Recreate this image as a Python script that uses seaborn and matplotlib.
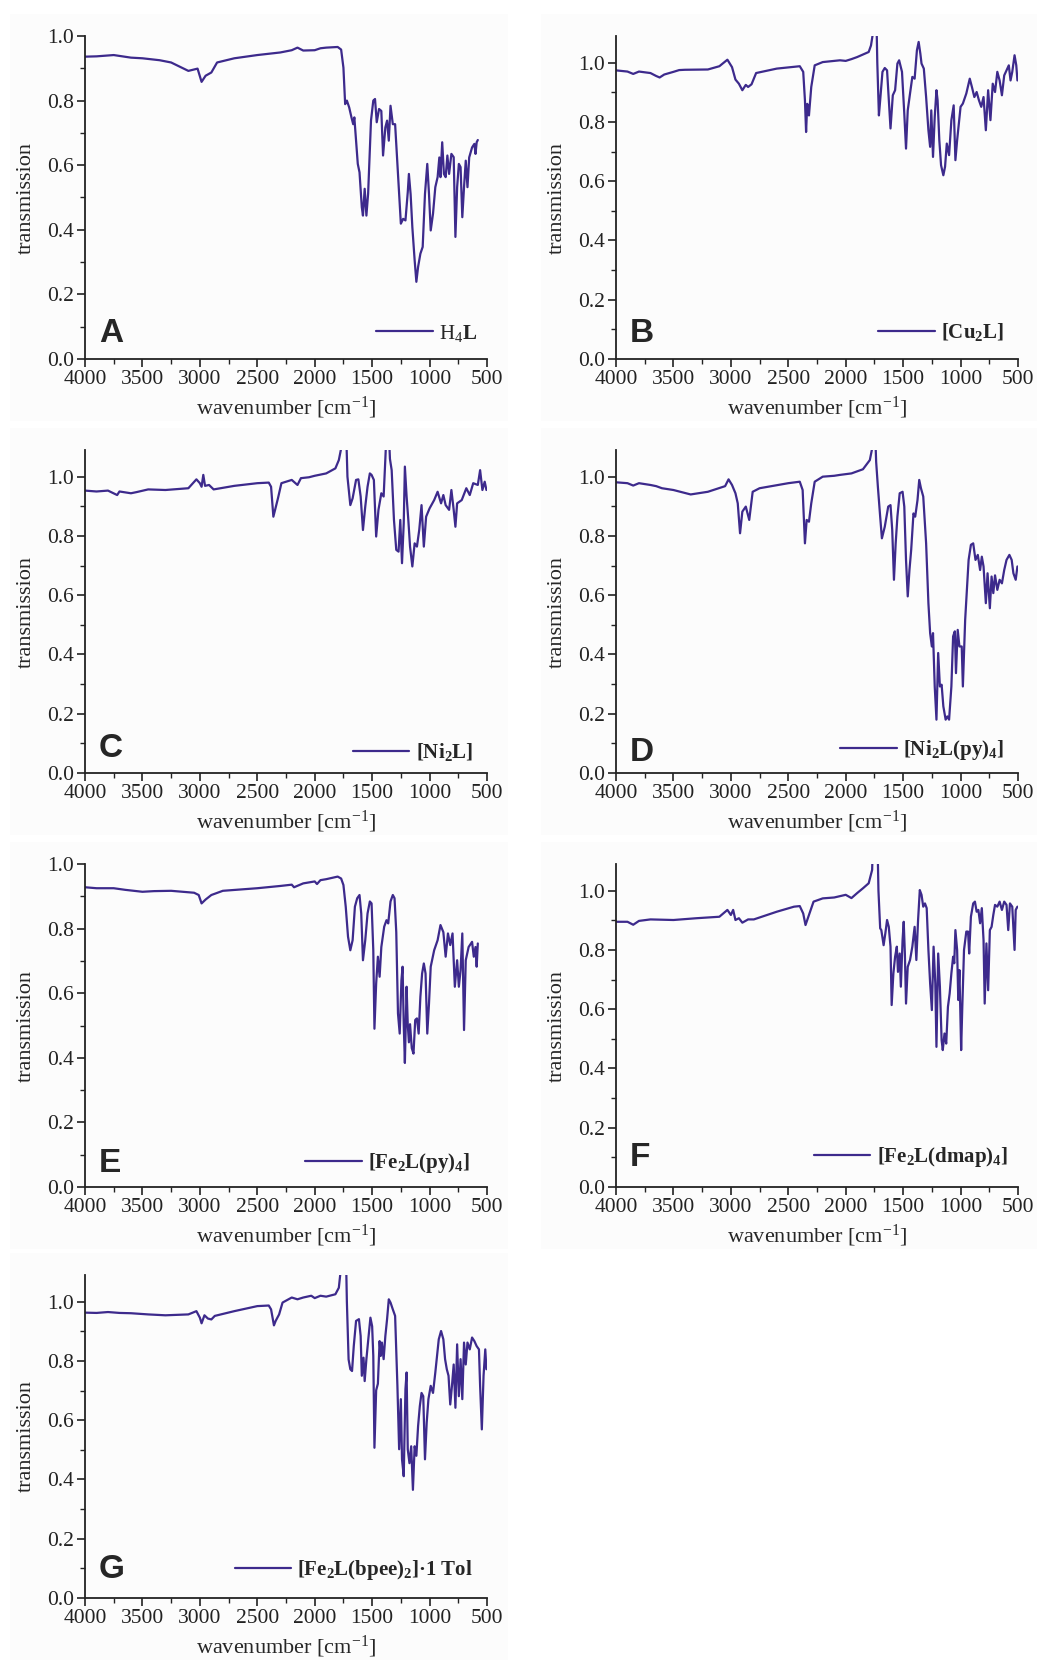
import numpy as np
import pandas as pd
import seaborn as sns
import matplotlib.pyplot as plt
from matplotlib.patches import Rectangle
from matplotlib.ticker import MultipleLocator

# (wavenumber, transmission) pairs
spec_A = [(4000, 0.936), (3900, 0.937), (3750, 0.941), (3600, 0.933), (3500, 0.931), (3350, 0.925), (3250, 0.918),
          (3100, 0.892), (3020, 0.899), (2985, 0.858), (2950, 0.877), (2900, 0.887), (2850, 0.918), (2700, 0.931),
          (2500, 0.941), (2300, 0.949), (2200, 0.956), (2150, 0.964), (2100, 0.955), (2000, 0.956), (1950, 0.962),
          (1900, 0.964), (1800, 0.966), (1770, 0.958), (1750, 0.902), (1735, 0.789), (1720, 0.800), (1700, 0.779),
          (1680, 0.748), (1665, 0.727), (1655, 0.748), (1640, 0.676), (1625, 0.604), (1610, 0.578), (1590, 0.470),
          (1580, 0.444), (1565, 0.527), (1550, 0.444), (1535, 0.512), (1510, 0.738), (1490, 0.800), (1475, 0.805),
          (1460, 0.733), (1440, 0.774), (1420, 0.768), (1405, 0.630), (1385, 0.717), (1370, 0.738), (1355, 0.676),
          (1340, 0.784), (1320, 0.727), (1300, 0.727), (1270, 0.542), (1250, 0.419), (1230, 0.434), (1210, 0.429),
          (1190, 0.516), (1180, 0.573), (1165, 0.510), (1150, 0.408), (1130, 0.306), (1115, 0.239), (1100, 0.285),
          (1080, 0.326), (1060, 0.347), (1040, 0.511), (1020, 0.604), (1005, 0.511), (990, 0.398), (970, 0.450),
          (950, 0.532), (930, 0.563), (915, 0.624), (905, 0.563), (890, 0.671), (875, 0.573), (860, 0.563),
          (845, 0.630), (830, 0.573), (810, 0.635), (790, 0.625), (775, 0.378), (760, 0.532), (745, 0.604),
          (730, 0.594), (715, 0.439), (700, 0.532), (685, 0.614), (670, 0.532), (655, 0.624), (630, 0.655),
          (610, 0.666), (600, 0.635), (590, 0.671), (580, 0.678)]

spec_B = [(4000, 0.974), (3900, 0.970), (3850, 0.962), (3800, 0.970), (3700, 0.965), (3650, 0.955), (3620, 0.950),
          (3580, 0.960), (3500, 0.969), (3450, 0.975), (3400, 0.976), (3200, 0.977), (3100, 0.988), (3030, 1.010),
          (2990, 0.985), (2960, 0.943), (2930, 0.929), (2900, 0.907), (2870, 0.925), (2850, 0.918), (2820, 0.927),
          (2780, 0.965), (2600, 0.980), (2400, 0.988), (2370, 0.969), (2355, 0.873), (2345, 0.766), (2335, 0.861),
          (2320, 0.822), (2300, 0.918), (2270, 0.991), (2200, 1.002), (2100, 1.006), (2050, 1.008), (2000, 1.006),
          (1950, 1.012), (1900, 1.019), (1800, 1.036), (1780, 1.058), (1765, 1.095), (1750, 1.2), (1735, 1.2),
          (1725, 1.0), (1711, 0.822), (1700, 0.873), (1680, 0.969), (1660, 0.982), (1640, 0.974), (1610, 0.778),
          (1590, 0.890), (1570, 0.907), (1550, 0.997), (1535, 1.008), (1510, 0.969), (1490, 0.828), (1475, 0.710),
          (1460, 0.839), (1440, 0.896), (1420, 0.952), (1400, 0.946), (1380, 1.042), (1365, 1.070), (1350, 1.030),
          (1340, 0.997), (1320, 0.980), (1300, 0.884), (1280, 0.772), (1265, 0.716), (1255, 0.839), (1240, 0.682),
          (1225, 0.817), (1210, 0.907), (1200, 0.873), (1185, 0.738), (1170, 0.654), (1150, 0.620), (1135, 0.649),
          (1120, 0.727), (1100, 0.688), (1080, 0.806), (1060, 0.856), (1045, 0.671), (1030, 0.738), (1000, 0.851),
          (980, 0.862), (950, 0.896), (920, 0.946), (900, 0.916), (880, 0.884), (860, 0.901), (840, 0.873),
          (820, 0.851), (800, 0.884), (780, 0.772), (760, 0.907), (740, 0.806), (720, 0.929), (700, 0.901),
          (680, 0.969), (660, 0.940), (640, 0.890), (620, 0.957), (600, 0.974), (580, 0.991), (565, 0.940),
          (550, 0.969), (530, 1.025), (515, 0.991), (505, 0.940)]

spec_C = [(4000, 0.953), (3900, 0.950), (3800, 0.953), (3720, 0.938), (3700, 0.950), (3600, 0.944), (3550, 0.948),
          (3450, 0.957), (3300, 0.955), (3100, 0.961), (3030, 0.991), (3000, 0.978), (2985, 0.966), (2970, 1.006),
          (2955, 0.969), (2920, 0.972), (2880, 0.957), (2700, 0.969), (2500, 0.978), (2400, 0.980), (2380, 0.966),
          (2360, 0.865), (2345, 0.888), (2320, 0.927), (2290, 0.978), (2200, 0.989), (2150, 0.972), (2120, 0.995),
          (2050, 0.998), (2000, 1.003), (1900, 1.011), (1820, 1.028), (1790, 1.056), (1770, 1.095), (1755, 1.2),
          (1730, 1.2), (1715, 1.0), (1690, 0.904), (1670, 0.927), (1640, 0.989), (1620, 0.991), (1600, 0.933),
          (1580, 0.820), (1560, 0.899), (1540, 0.966), (1520, 1.011), (1505, 1.006), (1485, 0.989), (1465, 0.798),
          (1445, 0.888), (1420, 0.944), (1400, 0.933), (1385, 1.06), (1375, 1.15), (1355, 1.15), (1345, 1.06),
          (1330, 1.022), (1310, 0.854), (1290, 0.753), (1270, 0.747), (1255, 0.854), (1240, 0.708), (1225, 0.843),
          (1215, 1.034), (1200, 0.933), (1185, 0.854), (1170, 0.764), (1150, 0.697), (1130, 0.775), (1110, 0.764),
          (1090, 0.820), (1070, 0.904), (1050, 0.764), (1030, 0.865), (1000, 0.893), (960, 0.921), (930, 0.949),
          (900, 0.910), (880, 0.938), (860, 0.904), (830, 0.888), (810, 0.955), (790, 0.888), (775, 0.831),
          (760, 0.910), (720, 0.921), (680, 0.961), (650, 0.938), (620, 0.978), (580, 0.972), (560, 1.022),
          (540, 0.955), (520, 0.983), (505, 0.955)]

spec_D = [(4000, 0.981), (3900, 0.978), (3850, 0.970), (3800, 0.978), (3700, 0.972), (3650, 0.968), (3600, 0.961),
          (3500, 0.955), (3350, 0.940), (3200, 0.949), (3050, 0.968), (3020, 0.991), (2990, 0.972), (2960, 0.944),
          (2940, 0.910), (2920, 0.809), (2900, 0.882), (2870, 0.899), (2840, 0.854), (2810, 0.949), (2750, 0.961),
          (2500, 0.978), (2400, 0.983), (2375, 0.955), (2355, 0.775), (2340, 0.854), (2320, 0.848), (2300, 0.910),
          (2270, 0.983), (2200, 1.000), (2100, 1.003), (2050, 1.006), (1950, 1.011), (1850, 1.025), (1790, 1.056),
          (1770, 1.095), (1760, 1.2), (1748, 1.2), (1735, 1.05), (1720, 0.966), (1700, 0.865), (1685, 0.792),
          (1660, 0.831), (1630, 0.899), (1610, 0.904), (1595, 0.820), (1580, 0.652), (1565, 0.775), (1550, 0.865),
          (1530, 0.944), (1505, 0.949), (1490, 0.899), (1475, 0.719), (1460, 0.596), (1445, 0.685), (1430, 0.753),
          (1410, 0.876), (1395, 0.865), (1375, 0.921), (1360, 0.989), (1345, 0.961), (1325, 0.933), (1300, 0.775),
          (1280, 0.573), (1265, 0.472), (1250, 0.427), (1240, 0.472), (1225, 0.292), (1210, 0.180), (1195, 0.405),
          (1180, 0.292), (1165, 0.298), (1150, 0.225), (1130, 0.180), (1115, 0.191), (1100, 0.180), (1080, 0.292),
          (1065, 0.461), (1050, 0.478), (1040, 0.337), (1025, 0.483), (1010, 0.427), (990, 0.427), (980, 0.292),
          (960, 0.517), (930, 0.719), (910, 0.770), (890, 0.775), (870, 0.719), (850, 0.736), (830, 0.685),
          (815, 0.730), (800, 0.697), (780, 0.573), (765, 0.674), (745, 0.556), (730, 0.663), (715, 0.607),
          (700, 0.667), (680, 0.618), (660, 0.652), (640, 0.640), (620, 0.685), (600, 0.719), (575, 0.736),
          (555, 0.719), (540, 0.674), (520, 0.652), (505, 0.697)]

spec_E = [(4000, 0.928), (3900, 0.925), (3750, 0.925), (3650, 0.920), (3500, 0.914), (3400, 0.916), (3250, 0.917),
          (3050, 0.911), (3010, 0.904), (2985, 0.878), (2950, 0.890), (2900, 0.904), (2800, 0.917), (2650, 0.921),
          (2500, 0.925), (2300, 0.932), (2200, 0.936), (2180, 0.928), (2100, 0.940), (2000, 0.946), (1980, 0.938),
          (1950, 0.950), (1900, 0.953), (1800, 0.961), (1770, 0.955), (1750, 0.935), (1730, 0.868), (1710, 0.775),
          (1690, 0.733), (1670, 0.764), (1650, 0.868), (1630, 0.894), (1610, 0.904), (1595, 0.847), (1580, 0.702),
          (1560, 0.764), (1540, 0.847), (1520, 0.884), (1505, 0.878), (1490, 0.733), (1480, 0.490), (1465, 0.630),
          (1450, 0.713), (1435, 0.651), (1420, 0.743), (1395, 0.806), (1375, 0.826), (1360, 0.816), (1340, 0.884),
          (1320, 0.904), (1305, 0.894), (1290, 0.789), (1275, 0.537), (1260, 0.475), (1245, 0.640), (1235, 0.682),
          (1225, 0.504), (1215, 0.384), (1200, 0.620), (1190, 0.504), (1180, 0.448), (1170, 0.504), (1155, 0.430),
          (1140, 0.413), (1125, 0.517), (1110, 0.522), (1095, 0.475), (1080, 0.589), (1065, 0.661), (1050, 0.692),
          (1035, 0.661), (1020, 0.475), (1005, 0.568), (990, 0.682), (960, 0.733), (930, 0.764), (905, 0.811),
          (880, 0.789), (860, 0.713), (840, 0.785), (820, 0.749), (800, 0.785), (780, 0.620), (760, 0.702),
          (745, 0.620), (730, 0.672), (715, 0.785), (700, 0.486), (685, 0.702), (660, 0.743), (630, 0.759),
          (615, 0.713), (600, 0.743), (590, 0.682), (580, 0.754)]

spec_F = [(4000, 0.895), (3900, 0.895), (3850, 0.885), (3800, 0.898), (3700, 0.903), (3500, 0.901), (3300, 0.907),
          (3100, 0.912), (3030, 0.935), (3000, 0.918), (2980, 0.935), (2960, 0.901), (2930, 0.907), (2900, 0.892),
          (2850, 0.903), (2800, 0.903), (2600, 0.929), (2450, 0.946), (2400, 0.948), (2370, 0.923), (2350, 0.884),
          (2320, 0.918), (2280, 0.963), (2200, 0.974), (2100, 0.977), (2000, 0.986), (1950, 0.975), (1900, 0.992),
          (1850, 1.008), (1800, 1.025), (1770, 1.07), (1760, 1.2), (1725, 1.2), (1715, 1.0), (1700, 0.873),
          (1690, 0.867), (1670, 0.816), (1655, 0.856), (1640, 0.901), (1625, 0.878), (1610, 0.811), (1600, 0.614),
          (1585, 0.721), (1570, 0.777), (1555, 0.811), (1545, 0.726), (1530, 0.788), (1520, 0.676), (1505, 0.833),
          (1495, 0.895), (1485, 0.788), (1475, 0.619), (1460, 0.743), (1440, 0.766), (1420, 0.811), (1400, 0.878),
          (1385, 0.766), (1370, 0.901), (1355, 1.002), (1340, 0.986), (1325, 0.946), (1310, 0.957), (1295, 0.941),
          (1280, 0.800), (1265, 0.687), (1250, 0.597), (1235, 0.811), (1220, 0.687), (1210, 0.473), (1195, 0.788),
          (1180, 0.676), (1165, 0.495), (1155, 0.462), (1140, 0.518), (1125, 0.484), (1110, 0.608), (1095, 0.653),
          (1080, 0.721), (1065, 0.777), (1055, 0.755), (1045, 0.867), (1030, 0.800), (1020, 0.631), (1010, 0.732),
          (995, 0.462), (985, 0.608), (970, 0.800), (950, 0.862), (935, 0.862), (925, 0.788), (910, 0.912),
          (890, 0.957), (875, 0.963), (860, 0.929), (845, 0.935), (830, 0.890), (815, 0.941), (800, 0.833),
          (790, 0.619), (775, 0.822), (760, 0.664), (745, 0.867), (730, 0.878), (715, 0.918), (700, 0.952),
          (680, 0.946), (660, 0.963), (640, 0.935), (620, 0.963), (600, 0.952), (585, 0.867), (570, 0.957),
          (550, 0.946), (530, 0.800), (520, 0.935), (505, 0.946)]

spec_G = [(4000, 0.963), (3900, 0.962), (3800, 0.965), (3700, 0.962), (3600, 0.961), (3450, 0.957), (3300, 0.954),
          (3100, 0.957), (3030, 0.968), (3000, 0.946), (2985, 0.927), (2960, 0.954), (2930, 0.943), (2900, 0.940),
          (2870, 0.952), (2700, 0.968), (2500, 0.985), (2400, 0.987), (2380, 0.974), (2355, 0.920), (2340, 0.935),
          (2310, 0.957), (2280, 0.997), (2200, 1.014), (2150, 1.008), (2100, 1.014), (2030, 1.020), (2000, 1.012),
          (1950, 1.020), (1900, 1.017), (1820, 1.025), (1790, 1.047), (1770, 1.12), (1755, 1.2), (1730, 1.2),
          (1720, 1.0), (1705, 0.805), (1690, 0.772), (1675, 0.766), (1660, 0.850), (1640, 0.935), (1615, 0.941),
          (1600, 0.884), (1590, 0.750), (1575, 0.811), (1565, 0.732), (1550, 0.806), (1535, 0.867), (1515, 0.946),
          (1500, 0.917), (1490, 0.817), (1480, 0.507), (1465, 0.701), (1450, 0.723), (1435, 0.867), (1425, 0.817),
          (1415, 0.862), (1400, 0.806), (1385, 0.884), (1370, 0.941), (1355, 1.008), (1340, 0.997), (1320, 0.974),
          (1300, 0.952), (1280, 0.716), (1265, 0.502), (1250, 0.671), (1240, 0.468), (1225, 0.411), (1210, 0.705),
          (1200, 0.761), (1190, 0.502), (1175, 0.455), (1160, 0.512), (1145, 0.365), (1130, 0.512), (1115, 0.480),
          (1100, 0.580), (1085, 0.647), (1070, 0.692), (1055, 0.681), (1040, 0.468), (1025, 0.592), (1010, 0.671),
          (990, 0.716), (970, 0.692), (950, 0.761), (920, 0.873), (900, 0.901), (880, 0.873), (865, 0.806),
          (850, 0.772), (835, 0.750), (820, 0.653), (805, 0.716), (790, 0.788), (775, 0.642), (760, 0.856),
          (745, 0.681), (730, 0.806), (715, 0.671), (700, 0.862), (685, 0.788), (670, 0.862), (650, 0.839),
          (630, 0.879), (610, 0.867), (590, 0.850), (570, 0.839), (560, 0.716), (545, 0.569), (530, 0.750),
          (515, 0.839), (505, 0.772)]

spectra = [spec_A, spec_B, spec_C, spec_D, spec_E, spec_F, spec_G]
letters = ["A", "B", "C", "D", "E", "F", "G"]
compounds = [r"$\mathrm{H_4}\mathbf{L}$",
             r"$\mathbf{[Cu_2L]}$",
             r"$\mathbf{[Ni_2L]}$",
             r"$\mathbf{[Ni_2L(py)_4]}$",
             r"$\mathbf{[Fe_2L(py)_4]}$",
             r"$\mathbf{[Fe_2L(dmap)_4]}$",
             r"$\mathbf{[Fe_2L(bpee)_2]·1\ Tol}$"]
y_tops = [1.0, 1.09, 1.09, 1.09, 1.0, 1.09, 1.09]
x_ticks = [4000, 3500, 3000, 2500, 2000, 1500, 1000, 500]
y_ticks = [0.0, 0.2, 0.4, 0.6, 0.8, 1.0]

sns.set_theme(style="ticks")
plt.rcParams["font.family"] = ["Liberation Serif", "DejaVu Serif"]
plt.rcParams["mathtext.fontset"] = "custom"
plt.rcParams["mathtext.rm"] = "Liberation Serif"
plt.rcParams["mathtext.bf"] = "Liberation Serif:bold"
plt.rcParams["mathtext.it"] = "Liberation Serif:italic"

line_col = "#3d2a8c"
W, H = 1037, 1664
fig = plt.figure(figsize=(W / 100, H / 100), dpi=100)

# pixel layout of the axes (left, bottom-of-axes y in px from top)
col_x = [85, 616]
row_y = [359, 773, 1187, 1598]
ax_w, ax_h = 402, 323
leg_pos = [(0.975, 0.08), (0.965, 0.083), (0.965, 0.065), (0.965, 0.071),
           (0.958, 0.074), (0.975, 0.093), (0.965, 0.087)]
let_y = [0.08, 0.08, 0.077, 0.065, 0.074, 0.09, 0.087]

for i, spec in enumerate(spectra):
    r, c = divmod(i, 2)
    x0, y0 = col_x[c], row_y[r]
    # faint panel background like the original figure
    fig.patches.append(Rectangle(((x0 - 75) / W, 1 - (y0 + 62) / H), (ax_w + 96) / W, (ax_h + 84) / H,
                                 transform=fig.transFigure, facecolor="#fcfcfc", edgecolor="none", zorder=-5))
    ax = fig.add_axes([x0 / W, 1 - y0 / H, ax_w / W, ax_h / H])
    ax.set_facecolor("none")

    df = pd.DataFrame(spec, columns=["wavenumber", "transmission"])
    sns.lineplot(data=df, x="wavenumber", y="transmission", ax=ax, color=line_col, lw=1.6,
                 sort=False, estimator=None, label=compounds[i])

    ax.set_xlim(4000, 500)
    ax.set_ylim(0, y_tops[i])
    ax.set_xticks(x_ticks)
    ax.set_yticks(y_ticks)
    ax.set_yticklabels([f"{v:.1f}" for v in y_ticks])
    ax.xaxis.set_minor_locator(MultipleLocator(250))
    ax.yaxis.set_minor_locator(MultipleLocator(0.1))
    ax.tick_params(which="major", direction="out", length=6, width=1.2, labelsize=15.5, pad=2, colors="#222222")
    ax.tick_params(which="minor", direction="out", length=3.5, width=1.0, colors="#222222")
    for s in ["top", "right"]:
        ax.spines[s].set_visible(False)
    for s in ["left", "bottom"]:
        ax.spines[s].set_linewidth(1.3)
        ax.spines[s].set_color("#222222")

    ax.set_xlabel(r"wavenumber [cm$^{-1}$]", fontsize=16, labelpad=4)
    ax.set_ylabel("transmission", fontsize=16, labelpad=8)

    ax.legend(loc="center right", bbox_to_anchor=leg_pos[i], frameon=False, fontsize=15,
              handlelength=2.7, handletextpad=0.3, borderaxespad=0, borderpad=0)
    ax.text(0.035, let_y[i], letters[i], transform=ax.transAxes, fontsize=24, fontweight="bold",
            family="Liberation Sans", ha="left", va="center")

fig.savefig("out.png", dpi=100, facecolor="white")
